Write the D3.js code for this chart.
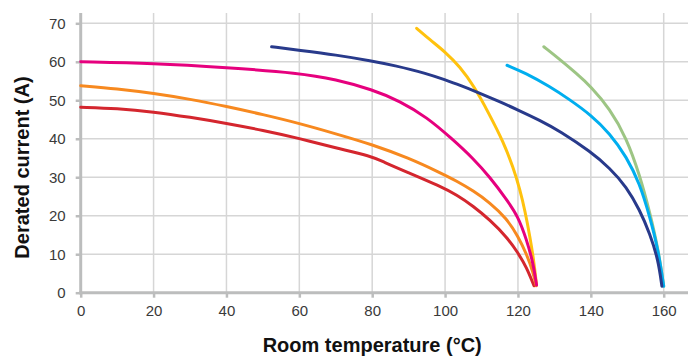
<!DOCTYPE html>
<html>
<head>
<meta charset="utf-8">
<script src="https://cdn.jsdelivr.net/npm/d3@7"></script>
<style>
  html, body { margin: 0; padding: 0; background: #fff; }
  svg { display: block; font-family: "Liberation Sans", Arial, Helvetica, sans-serif; }
</style>
</head>
<body>
<svg id="chart" width="688" height="356"></svg>
<script>
// ---- data ----
const xTicks = [0, 20, 40, 60, 80, 100, 120, 140, 160];
const yTicks = [0, 10, 20, 30, 40, 50, 60, 70];
const xTitle = "Room temperature (°C)";
const yTitle = "Derated current (A)";

const yellowSeries = [[92.2, 68.7], [96, 65.6], [100, 62.6], [104, 58.8], [108, 53.6], [112, 46.6], [116, 39.2], [118.7, 32.5], [120.5, 27], [122, 21], [123.3, 14.5], [124.4, 8], [125.1, 2]];
const redSeries = [[0, 48.2], [10, 47.9], [20, 47], [30, 45.6], [40, 44], [50, 42.2], [60, 40.1], [70, 37.6], [79.8, 35.5], [83, 34], [89.4, 31.4], [98.6, 27.7], [103.2, 25.4], [107.7, 22.5], [112.3, 18.9], [116.9, 14.5], [120, 10.4], [122.4, 6.5], [124.4, 1.8]];
const orangeSeries = [[0, 53.8], [10, 53], [20, 51.8], [30, 50.3], [40, 48.4], [50, 46.3], [60, 44], [70, 41.3], [80, 38.5], [90, 35], [98.6, 31.2], [103.2, 29], [107.7, 26.5], [112.3, 23.4], [116.9, 19.3], [120, 14.7], [122.4, 10], [124.2, 5.2], [125, 1.8]];
const magentaSeries = [[0, 60], [20, 59.6], [40, 58.5], [60, 57.1], [70, 55.4], [80, 52.8], [87.6, 49.8], [95, 45.6], [101.9, 40], [107.7, 34.9], [112.3, 30], [116.9, 24.2], [120, 19.9], [122.4, 13.7], [124.2, 7.6], [125.1, 2]];
const navySeries = [[52.4, 63.9], [60, 63], [70, 61.8], [80, 60.2], [85.8, 59.1], [94.9, 57], [100, 55.3], [104.1, 53.9], [108.6, 52.2], [115, 49.6], [120, 47.5], [126, 44.8], [131.5, 42], [140, 36.6], [145.2, 32.4], [149.8, 27.5], [153.4, 21.5], [156.2, 15.4], [158.5, 8.5], [159.5, 1.7]];
const blueSeries = [[117, 59.1], [122, 57.1], [128.7, 53.6], [134, 50.3], [140, 46.2], [145.2, 41.4], [149.8, 35.3], [153.4, 28.4], [156.2, 19.7], [158.5, 11.1], [160, 1.7]];
const greenSeries = [[127.1, 63.9], [131.5, 60.6], [136, 57], [140, 53.6], [145.2, 47.8], [149.8, 40.2], [153.4, 30.6], [156.2, 20.8], [158.5, 11.3], [160, 1.7]];

const series = [
  { name: "yellow", color: "#ffc20e", values: yellowSeries },
  { name: "red", color: "#d4262e", values: redSeries },
  { name: "orange", color: "#f7891f", values: orangeSeries },
  { name: "magenta", color: "#e6007e", values: magentaSeries },
  { name: "green", color: "#9dc584", values: greenSeries },
  { name: "blue", color: "#00aeef", values: blueSeries },
  { name: "navy", color: "#283a8b", values: navySeries }
];

// ---- layout ----
const x = d3.scaleLinear().domain([0, 160]).range([80.7, 663.7]);
const y = d3.scaleLinear().domain([0, 70]).range([292.7, 23.3]);
const gridTop = 13;
const gridRight = 688;

const svg = d3.select("#chart");

// gridlines
const grid = svg.append("g").attr("class", "grid");
grid.selectAll("line.h").data(yTicks.filter(d => d > 0)).enter().append("line")
  .attr("x1", x(0)).attr("x2", gridRight)
  .attr("y1", d => y(d)).attr("y2", d => y(d))
  .attr("stroke", "#d6d6d6").attr("stroke-width", 1.5);
grid.selectAll("line.v").data(xTicks.filter(d => d > 0)).enter().append("line")
  .attr("x1", d => x(d)).attr("x2", d => x(d))
  .attr("y1", y(0)).attr("y2", gridTop)
  .attr("stroke", "#d6d6d6").attr("stroke-width", 1.5);

// axes
const axisColor = "#bcbdbd";
const yAxis = svg.append("g").attr("transform", `translate(${x(0)},0)`)
  .call(d3.axisLeft(y).tickValues(yTicks).tickSize(5).tickPadding(10).tickFormat(d3.format("d")));
const xAxis = svg.append("g").attr("transform", `translate(0,${y(0)})`)
  .call(d3.axisBottom(x).tickValues(xTicks).tickSize(5).tickPadding(8).tickFormat(d3.format("d")));
[yAxis, xAxis].forEach(g => {
  g.select(".domain").remove();
  g.selectAll(".tick line").attr("stroke", axisColor).attr("stroke-width", 2.5);
  g.selectAll(".tick text").attr("fill", "#3a3a3a").style("font-size", "15px")
    .style("font-family", "'Liberation Sans', Arial, sans-serif");
});
// axis lines
svg.append("line").attr("x1", x(0)).attr("x2", x(0)).attr("y1", gridTop).attr("y2", y(0) + 1.5)
  .attr("stroke", axisColor).attr("stroke-width", 3);
svg.append("line").attr("x1", x(0) - 1.5).attr("x2", gridRight).attr("y1", y(0)).attr("y2", y(0))
  .attr("stroke", axisColor).attr("stroke-width", 3);

// series lines
const line = d3.line().x(d => x(d[0])).y(d => y(d[1])).curve(d3.curveBasis);
svg.append("g").selectAll("path").data(series).enter().append("path")
  .attr("d", d => line(d.values))
  .attr("fill", "none")
  .attr("stroke", d => d.color)
  .attr("stroke-width", 3)
  .attr("stroke-linecap", "round")
  .attr("stroke-linejoin", "round");

// titles
svg.append("text").text(xTitle)
  .attr("x", (x(0) + x(160)) / 2).attr("y", 352)
  .attr("text-anchor", "middle").attr("fill", "#111")
  .style("font-size", "20px").style("font-weight", "bold");
svg.append("text").text(yTitle)
  .attr("transform", `translate(28.5,${(78 + 257) / 2}) rotate(-90)`)
  .attr("text-anchor", "middle").attr("fill", "#111")
  .style("font-size", "20px").style("font-weight", "bold");
</script>
</body>
</html>
